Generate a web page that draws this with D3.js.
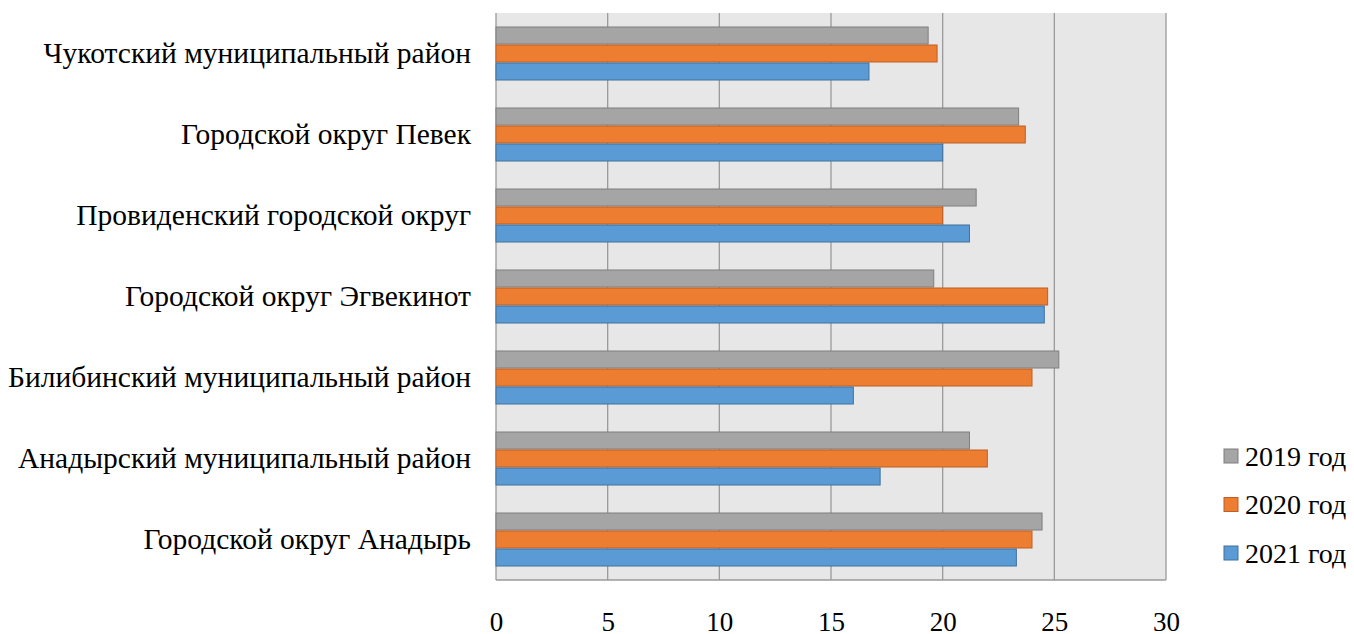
<!DOCTYPE html>
<html><head><meta charset="utf-8">
<script src="https://cdn.jsdelivr.net/npm/d3@7"></script>
<style>body{margin:0;background:#fff}svg{display:block}
svg text{font-family:"Liberation Serif","Times New Roman","DejaVu Serif",serif;}</style>
</head><body>
<svg id="c" width="1354" height="634"></svg>
<script>
const categories = ["Чукотский муниципальный район","Городской округ Певек","Провиденский городской округ","Городской округ Эгвекинот","Билибинский муниципальный район","Анадырский муниципальный район","Городской округ Анадырь"];
const seriesNames = ["2019 год","2020 год","2021 год"];
const v2019 = [19.35, 23.4, 21.5, 19.6, 25.2, 21.2, 24.45];
const v2020 = [19.75, 23.7, 20.0, 24.7, 24.0, 22.0, 24.0];
const v2021 = [16.7, 20.0, 21.2, 24.55, 16.0, 17.2, 23.3];
const xTicks = [0,5,10,15,20,25,30];
const colors = ["#a5a5a5","#ed7d31","#5b9bd5"];
const strokes = ["#7f7f7f","#c05f24","#41719c"];
const values = [v2019, v2020, v2021];

const svg = d3.select("#c");
const L=496, R=1166, T=13, B=580;
const x = d3.scaleLinear().domain([0,30]).range([L,R]);
const y = d3.scaleBand().domain(categories).range([T,B]);
const ys = d3.scaleBand().domain(seriesNames).range([y.bandwidth()/6, y.bandwidth()*5/6]);

svg.append("rect").attr("x",L).attr("y",T).attr("width",R-L).attr("height",B-T).attr("fill","#e7e7e7");
svg.append("g").selectAll("line").data(xTicks).join("line")
  .attr("x1",d=>x(d)).attr("x2",d=>x(d)).attr("y1",T).attr("y2",B)
  .attr("stroke","#9a9a9a").attr("stroke-width",1.3);
svg.append("line").attr("x1",L).attr("x2",R).attr("y1",B).attr("y2",B).attr("stroke","#9a9a9a").attr("stroke-width",1.3);

seriesNames.forEach((s,i)=>{
  svg.append("g").selectAll("rect").data(categories).join("rect")
    .attr("x",x(0)).attr("y",(c)=>y(c)+ys(s)+0.5)
    .attr("width",(c,j)=>x(values[i][j])-x(0)).attr("height",ys.bandwidth()-1)
    .attr("fill",colors[i]).attr("stroke",strokes[i]).attr("stroke-width",1);
});

const font = '"Liberation Serif","Times New Roman","DejaVu Serif",serif';
const xAxis = d3.axisBottom(x).tickValues(xTicks).tickSize(0).tickPadding(0);
const gx = svg.append("g").attr("transform",`translate(0,${B})`).call(xAxis);
gx.attr("font-family",null).attr("font-size",null);
gx.select(".domain").remove();
gx.selectAll("text").style("font-family",font).style("font-size","27px").attr("fill","#000").attr("dy",null).attr("y",51);

const yAxis = d3.axisLeft(y).tickSize(0).tickPadding(0);
const gy = svg.append("g").attr("transform",`translate(471,0)`).call(yAxis);
gy.attr("font-family",null).attr("font-size",null);
gy.select(".domain").remove();
gy.selectAll("text").style("font-family",font).style("font-size","29.5px").attr("fill","#000").attr("dy","0.32em");

const leg = svg.append("g");
seriesNames.forEach((s,i)=>{
  const yy = 456 + i*48.5;
  leg.append("rect").attr("x",1224).attr("y",yy-7).attr("width",14).attr("height",14)
    .attr("fill",colors[i]).attr("stroke",strokes[i]);
  leg.append("text").attr("x",1245).attr("y",yy).attr("dy","0.35em").style("font-family",font).style("font-size","28px").text(s);
});
</script>
</body></html>
